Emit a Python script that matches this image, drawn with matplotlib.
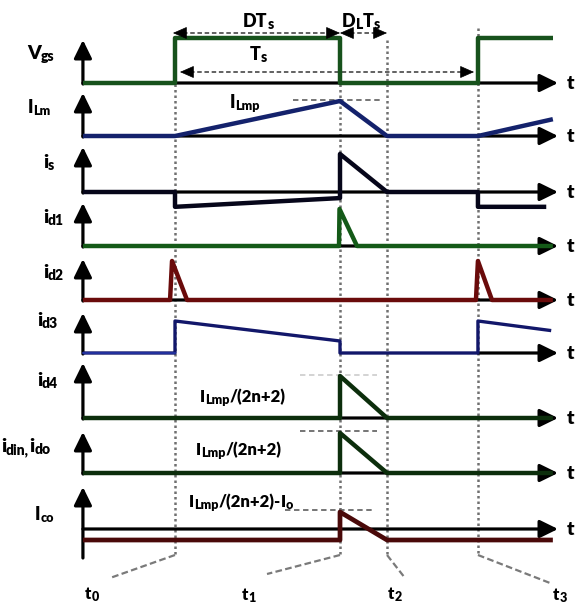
import matplotlib
matplotlib.use("Agg")
import matplotlib.pyplot as plt
import numpy as np

plt.rcParams["font.family"] = ["Lato", "DejaVu Sans"]

W, H = 576, 606

# ---------- switching instants (time unit = DTs, t0 = 0) ----------
T_START, T_END = -0.558, 2.29
T1, T2, T3 = 1.0, 1.285, 1.836

# ---------- waveforms: time points and normalized levels ----------
vgs_t = [T_START, 0, 0, T1, T1, T3, T3, T_END]
vgs_v = [0, 0, 1, 1, 0, 0, 1, 1]

ilm_t = [T_START, 0, T1, T2, T3, T_END]
ilm_v = [0, 0, 1, 0, 0, 0.48]

is_t = [T_START, 0, 0, T1, T1, T2, T3, T3, 2.25]
is_v = [0, 0, -0.39, -0.16, 1, 0, 0, -0.39, -0.39]

id1_t = [T_START, 0.994, 0.997, 1.103, T_END]
id1_v = [0, 0, 1, 0, 0]

id2_t = [T_START, -0.03, -0.018, 0.073, 1.824, T3, 1.921, T_END]
id2_v = [0, 0, 1, 0, 0, 1, 0, 0]

id3_t = [T_START, 0, 0, T1, T1, T3, T3, 2.28]
id3_v = [0, 0, 1, 0.375, 0, 0, 1, 0.7]

id4_t = [T_START, T1, T1, T2, T_END]
id4_v = [0, 0, 1, 0, 0]

idin_t = [T_START, T1, T1, T2, T_END]
idin_v = [0, 0, 1, 0, 0]

ico_t = [T_START, T1, T1, T2, T_END]
ico_v = [-0.55, -0.55, 0.85, -0.55, -0.55]

# ---------- layout ----------
X0, XS = 175, 165          # pixel of t0, pixels per time unit
X_TIP = (558 - X0) / XS    # horizontal arrow tip

fig = plt.figure(figsize=(W / 100, H / 100), dpi=100)
ax = fig.add_axes([0, 0, 1, 1])
ax.set_xlim(-X0 / XS, (W - X0) / XS)
ax.set_ylim(H, 0)
ax.axis("off")


def px(x):
    return (x - X0) / XS


# rows: (t, v, baseline, px per unit, arrow top, arrow bottom, colour, width, axis start)
rows = [
    (vgs_t, vgs_v, 83, 45, 40, 83, "#17521c", 3.2, T_START),
    (ilm_t, ilm_v, 136, 35, 93, 136, "#14226c", 3.2, T_START),
    (is_t, is_v, 192, 38, 147, 192, "#06061a", 3.2, T_START),
    (id1_t, id1_v, 246, 37, 203, 246, "#145a18", 3.2, T_START),
    (id2_t, id2_v, 300, 39, 259, 300, "#6a0b0b", 3.2, T_START),
    (id3_t, id3_v, 353, 32, 313, 353, "#12176a", 2.4, T3),
    (id4_t, id4_v, 418, 42, 363, 418, "#0c2e0c", 3.2, T_START),
    (idin_t, idin_v, 473, 40, 432, 473, "#0c2e0c", 3.2, T_START),
    (ico_t, ico_v, 529, 20, 487, 557, "#4a0909", 3.4, T_START),
]

arrow_kw = dict(arrowstyle="-|>,head_length=0.55,head_width=0.27", lw=2.3,
                color="k", shrinkA=0, shrinkB=0, mutation_scale=20)

# dotted instants
for t, ytop, ybot in [(0, 40, 555), (T1, 40, 557), (T2, 40, 557), (T3, 28, 555)]:
    ax.plot([t, t], [ytop, ybot], color="#707070", lw=1.8,
            linestyle=(0, (1, 1.2)), zorder=1)

# slanted dashed leaders to time labels
lead_end_t = [px(110), px(267), px(405), px(550)]
lead_end_y = [578, 574, 578, 583]
for t, te, ye in zip([0, T1, T2, T3], lead_end_t, lead_end_y):
    ax.plot([t, te], [555, ye], color="#7a7a7a", lw=1.6, linestyle=(0, (3, 1.5)), zorder=1)

for t, v, base, unit, top, bot, col, lw, hstart in rows:
    ax.annotate("", xy=(X_TIP, base), xytext=(hstart, base), arrowprops=arrow_kw, zorder=2)
    ax.annotate("", xy=(T_START, top), xytext=(T_START, bot + 1), arrowprops=arrow_kw, zorder=2)
    ax.plot(t, base - unit * np.array(v), color=col, lw=lw,
            solid_joinstyle="round", solid_capstyle="butt", zorder=3)

# id3 baseline is drawn thin in blue
ax.plot([T_START, 0], [353, 353], color="#2636a8", lw=1.2, zorder=3)

# dashed guides
guides = [(100, px(293), px(380), "#6a6a6a"),
          (375, px(300), px(377), "#d0d0d0"),
          (431, px(300), px(377), "#6a6a6a"),
          (510, px(285), px(372), "#6a6a6a")]
for y, xa, xb, c in guides:
    ax.plot([xa, xb], [y, y], color=c, lw=1.3, linestyle=(0, (3, 2)), zorder=1)

# double arrows DTs, DLTs, Ts
head_kw = dict(arrowstyle="-|>,head_length=0.5,head_width=0.22", lw=0.5,
               color="k", shrinkA=0, shrinkB=0, mutation_scale=18)
for xa, xb, y in [(173, 340, 33), (340, 387, 33), (180, 474, 72)]:
    ax.plot([px(xa) + 0.06, px(xb) - 0.06], [y, y], color="#555555", lw=1.3,
            linestyle=(0, (2.5, 1.5)), zorder=1)
    ax.annotate("", xy=(px(xa), y), xytext=(px(xa) + 0.07, y), arrowprops=head_kw)
    ax.annotate("", xy=(px(xb), y), xytext=(px(xb) - 0.07, y), arrowprops=head_kw)

renderer = fig.canvas.get_renderer()


def rich(x, y, parts, size=13, sub_size=9, drop=3, color="k"):
    """text with subscripts; x left edge, y baseline (image pixels from top)"""
    for s, is_sub in parts:
        fs = sub_size if is_sub else size
        t = fig.text(x, H - y - (drop if is_sub else 0), s, fontsize=fs,
                     fontweight="heavy", color=color, transform=None,
                     va="baseline", ha="left")
        x += t.get_window_extent(renderer).width


# left labels
rich(27, 59, [("V", 0), ("gs", 1)], 14, 10, 2)
rich(28, 113, [("I", 0), ("Lm", 1)], 13, 9, 2)
rich(43, 168, [("i", 0), ("s", 1)], 14, 10, 2)
rich(43, 223, [("i", 0), ("d1", 1)], 14, 10, 2)
rich(43, 278, [("i", 0), ("d2", 1)], 14, 10, 2)
rich(37, 326, [("i", 0), ("d3", 1)], 14, 10, 2)
rich(37, 386, [("i", 0), ("d4", 1)], 14, 10, 2)
rich(1, 452, [("i", 0), ("din,", 1), ("i", 0), ("do", 1)], 14, 10, 2)
rich(35, 520, [("I", 0), ("co", 1)], 13, 9, 2)

# top labels
rich(243, 27, [("DT", 0), ("s", 1)], 13, 10, 2)
rich(342, 27, [("D", 0), ("L", 1), ("T", 0), ("s", 1)], 13, 10, 2)
rich(250, 60, [("T", 0), ("s", 1)], 13, 10, 2)
rich(230, 108, [("I", 0), ("Lmp", 1)], 13, 9, 2)
rich(200, 402, [("I", 0), ("Lmp", 1), ("/(2n+2)", 0)], 12, 9, 2)
rich(196, 455, [("I", 0), ("Lmp", 1), ("/(2n+2)", 0)], 12, 9, 2)
rich(189, 507, [("I", 0), ("Lmp", 1), ("/(2n+2)-", 0), ("I", 0), ("o", 1)], 12, 9, 2)

# time labels
rich(85, 599, [("t", 0), ("0", 1)], 12, 9, 2)
rich(242, 600, [("t", 0), ("1", 1)], 12, 9, 2)
rich(388, 599, [("t", 0), ("2", 1)], 12, 9, 2)
rich(553, 600, [("t", 0), ("3", 1)], 12, 9, 2)

# axis "t" labels at the right edge
for r in rows:
    rich(567, r[2] + 6, [("t", 0)], 14)

fig.savefig("out.png", dpi=100)
